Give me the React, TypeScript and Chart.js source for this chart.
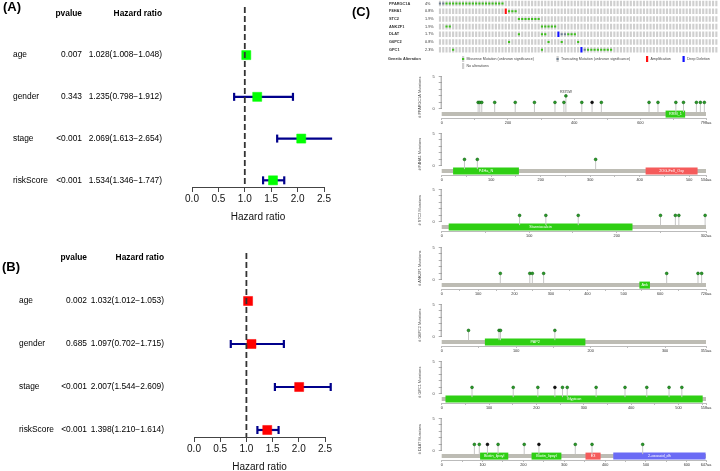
import React, { useEffect, useRef } from 'react';
import { Chart, registerables } from 'chart.js';

Chart.register(...registerables);

const FONT = '"Liberation Sans", Arial, Helvetica, sans-serif';
Chart.defaults.font.family = FONT;

// ---------------- Forest plot data (panels A and B) ----------------
const forestRows = ['age', 'gender', 'stage', 'riskScore'];
const hrTicks = [0, 0.5, 1, 1.5, 2, 2.5];

const pvaluesA = ['0.007', '0.343', '<0.001', '<0.001'];
const hrA = [1.028, 1.235, 2.069, 1.534];
const lowA = [1.008, 0.798, 1.613, 1.346];
const highA = [1.048, 1.912, 2.654, 1.747];

const pvaluesB = ['0.002', '0.685', '<0.001', '<0.001'];
const hrB = [1.032, 1.097, 2.007, 1.398];
const lowB = [1.012, 0.702, 1.544, 1.21];
const highB = [1.053, 1.715, 2.609, 1.614];

// ---------------- Oncoprint data (panel C) ----------------
const oncoGenes = ['PPARGC1A', 'P4HA1', 'STC2', 'ANKZF1', 'DLAT', 'G6PC2', 'GPC1'];
const oncoPercents = ['4%', '0.8%', '1.9%', '1.9%', '1.7%', '0.8%', '2.3%'];
const oncoSampleCount = 85;
const oncoMissense = [
  [2, 3, 4, 5, 6, 7, 8, 9, 10, 11, 12, 13, 14, 15, 16, 17, 18, 19],
  [21, 22, 23],
  [24, 25, 26, 27, 28, 29, 30],
  [2, 3, 31, 32, 33, 34, 35],
  [24, 31, 32, 39, 40, 41],
  [21, 33, 37, 42],
  [4, 31, 45, 46, 47, 48, 49, 50, 51, 52],
];
const oncoTruncating = [[0, 1], [], [], [], [37, 38], [], [44]];
const oncoAmplification = [[], [20], [], [], [], [], []];
const oncoDeepDeletion = [[], [], [], [], [36], [], [43]];

// ---------------- Lollipop data (panel C) ----------------
const lolliGenes = ['PPARGC1A', 'P4HA1', 'STC2', 'ANKZF1', 'G6PC2', 'GPC1', 'DLAT'];
const lolliLengths = [798, 534, 302, 726, 355, 558, 647];
const lolliMajorTicks = [
  [0, 200, 400, 600],
  [0, 100, 200, 300, 400, 500],
  [0, 100, 200],
  [0, 100, 200, 300, 400, 500, 600],
  [0, 100, 200, 300],
  [0, 100, 200, 300, 400, 500],
  [0, 100, 200, 300, 400, 500, 600],
];
const lolliMinorTicks = [
  [100, 300, 500, 700],
  [50, 150, 250, 350, 450],
  [50, 150, 250],
  [50, 150, 250, 350, 450, 550, 650],
  [50, 150, 250],
  [50, 150, 250, 350, 450, 550],
  [50, 150, 250, 350, 450, 550],
];
const lolliPositions = [
  [110, 115, 121, 160, 222, 280, 342, 369, 375, 423, 454, 482, 626, 653, 707, 730, 769, 781, 793],
  [46, 72, 311],
  [89, 119, 156, 250, 267, 271, 301],
  [161, 242, 249, 280, 618, 704, 714],
  [36, 77, 79, 152],
  [64, 151, 203, 239, 255, 265, 326, 387, 433, 480, 507],
  [80, 92, 112, 138, 202, 238, 327, 368, 492],
];
const lolliCounts = [
  [1, 1, 1, 1, 1, 1, 1, 1, 2, 1, 1, 1, 1, 1, 1, 1, 1, 1, 1],
  [1, 1, 1],
  [1, 1, 1, 1, 1, 1, 1],
  [1, 1, 1, 1, 1, 1, 1],
  [1, 1, 1, 1],
  [1, 1, 1, 1, 1, 1, 1, 1, 1, 1, 1],
  [1, 1, 1, 1, 1, 1, 1, 1, 1],
];
const lolliTruncating = [[454], [], [], [], [], [239], [112, 238]];
const lolliHotspotPos = [[375], [], [], [], [], [], []];
const lolliHotspotText = [['R375W'], [], [], [], [], [], []];
const lolliDomainNames = [
  ['RRM_1'],
  ['P4Ha_N', '2OG-FeII_Oxy'],
  ['Stanniocalcin'],
  ['Ank'],
  ['PAP2'],
  ['Glypican'],
  ['Biotin_lipoyl', 'Biotin_lipoyl', 'E3', '2-oxoacid_dh'],
];
const lolliDomainStarts = [[676], [23, 412], [8], [543], [58], [8], [94, 220, 352, 420]];
const lolliDomainEnds = [[735], [156, 517], [218], [572], [193], [551], [163, 293, 389, 646]];

// ---------------- styles / layout ----------------
const domainColors: Record<string, string> = {
  '2OG-FeII_Oxy': '#f55b5b',
  E3: '#f55b5b',
  '2-oxoacid_dh': '#6b6bf5',
};
const DOMAIN_GREEN = '#2fcf14';
const lolliTops = [75, 131.7, 188.3, 245.7, 302.7, 360, 416.7];

type ForestCfg = {
  left: number; top: number; w: number; h: number;
  padLeft: number; padRight: number; padTop: number;
  axisH: number; titlePad: number; yMin: number; yMax: number;
  labelX: number; pX: number; hrX: number;
  panel: string; panelX: number; panelY: number; color: string;
  pvals: string[]; hr: number[]; low: number[]; high: number[];
};

const forestA: ForestCfg = {
  left: 0, top: 0, w: 340, h: 232, padLeft: 192, padRight: 16, padTop: 0,
  axisH: 45, titlePad: 9, yMin: -0.155, yMax: 4.16,
  labelX: 13, pX: 82, hrX: 162, panel: '(A)', panelX: 3, panelY: 7.5, color: '#00FF00',
  pvals: pvaluesA, hr: hrA, low: lowA, high: highA,
};
const forestB: ForestCfg = {
  left: 0, top: 236, w: 340, h: 240, padLeft: 194, padRight: 15, padTop: 17,
  axisH: 39, titlePad: 3, yMin: -0.116, yMax: 4.163,
  labelX: 19, pX: 87, hrX: 164, panel: '(B)', panelX: 2, panelY: 31, color: '#FF0000',
  pvals: pvaluesB, hr: hrB, low: lowB, high: highB,
};

function ForestPlot({ cfg }: { cfg: ForestCfg }) {
  const ref = useRef<HTMLCanvasElement>(null);
  useEffect(() => {
    const navy = '#00008B';
    const hrText = cfg.hr.map(
      (v, i) => `${v.toFixed(3)}(${cfg.low[i].toFixed(3)}\u2212${cfg.high[i].toFixed(3)})`
    );
    const datasets: any[] = [
      {
        data: [{ x: 1, y: cfg.yMin }, { x: 1, y: cfg.yMax }],
        showLine: true, borderColor: '#333', borderWidth: 1.8, borderDash: [6, 3],
        pointRadius: 0, clip: false,
      },
      {
        data: cfg.hr.map((v, i) => ({ x: v, y: i + 1 })),
        pointStyle: 'rect', pointRadius: 6.4, pointBackgroundColor: cfg.color,
        pointBorderColor: cfg.color, pointBorderWidth: 0.5, clip: false,
      },
      ...forestRows.map((_, i) => ({
        data: [{ x: cfg.low[i], y: i + 1 }, { x: cfg.high[i], y: i + 1 }],
        showLine: true, borderColor: navy, borderWidth: 2.2,
        pointStyle: 'line', pointRotation: 90, pointRadius: 4,
        pointBorderColor: navy, pointBorderWidth: 2.2, clip: false,
      })),
    ];
    const textPlugin = {
      id: 'forestText',
      afterDraw(chart: any) {
        const ctx = chart.ctx;
        const y = chart.scales.y;
        ctx.save();
        ctx.fillStyle = '#000';
        ctx.textBaseline = 'middle';
        const hy = y.getPixelForValue(0);
        ctx.font = `bold 8.4px ${FONT}`;
        ctx.textAlign = 'right';
        ctx.fillText('pvalue', cfg.pX, hy);
        ctx.fillText('Hazard ratio', cfg.hrX, hy);
        ctx.font = `8.4px ${FONT}`;
        forestRows.forEach((r, i) => {
          const py = y.getPixelForValue(i + 1);
          ctx.textAlign = 'left';
          ctx.fillText(r, cfg.labelX, py);
          ctx.textAlign = 'right';
          ctx.fillText(cfg.pvals[i], cfg.pX, py);
          ctx.fillText(hrText[i], cfg.hrX, py);
        });
        ctx.font = `bold 13px ${FONT}`;
        ctx.textAlign = 'left';
        ctx.fillText(cfg.panel, cfg.panelX, cfg.panelY);
        ctx.restore();
      },
    };
    const chart = new Chart(ref.current!, {
      type: 'scatter',
      data: { datasets },
      options: {
        animation: false, responsive: false, events: [],
        layout: { padding: { left: cfg.padLeft, right: cfg.padRight, top: cfg.padTop, bottom: 0 } },
        plugins: { legend: { display: false }, tooltip: { enabled: false } },
        scales: {
          x: {
            type: 'linear', min: 0, max: 2.5,
            afterBuildTicks: (s: any) => { s.ticks = hrTicks.map((v) => ({ value: v })); },
            afterFit: (s: any) => { s.height = cfg.axisH; },
            ticks: {
              callback: (v: any) => Number(v).toFixed(1), font: { size: 10 }, color: '#111',
              padding: 1.5, maxRotation: 0, autoSkip: false,
            },
            grid: { drawOnChartArea: false, drawTicks: true, tickLength: 5, color: '#444', lineWidth: 1 },
            border: { display: true, color: '#444', width: 1 },
            title: {
              display: true, text: 'Hazard ratio', font: { size: 10 }, color: '#111',
              padding: { top: 0, bottom: cfg.titlePad },
            },
          },
          y: { type: 'linear', display: false, reverse: true, min: cfg.yMin, max: cfg.yMax },
        },
      } as any,
      plugins: [textPlugin],
    });
    return () => chart.destroy();
  }, []);
  return (
    <canvas
      ref={ref}
      width={cfg.w}
      height={cfg.h}
      style={{ position: 'absolute', left: cfg.left, top: cfg.top, width: cfg.w, height: cfg.h }}
    />
  );
}

function OncoPrint() {
  const ref = useRef<HTMLCanvasElement>(null);
  const W = 370, H = 72, LEFT = 350;
  useEffect(() => {
    const cols = Array.from({ length: oncoSampleCount }, (_, i) => String(i + 1));
    const GRAY = '#cfcfcf';
    const marks: any[] = [];
    const backs: any[] = [];
    oncoGenes.forEach((g, r) => {
      marks.push({
        data: cols.map((_, c) => (oncoMissense[r].includes(c) ? [r - 0.13, r + 0.13] : null)),
        backgroundColor: '#3fbf1f',
      });
      marks.push({
        data: cols.map((_, c) => (oncoTruncating[r].includes(c) ? [r - 0.13, r + 0.13] : null)),
        backgroundColor: '#6f7f90',
      });
      backs.push({
        data: cols.map(() => [r - 0.36, r + 0.36]),
        backgroundColor: cols.map((_, c) =>
          oncoAmplification[r].includes(c) ? '#ff1010' : oncoDeepDeletion[r].includes(c) ? '#1010ff' : GRAY
        ),
      });
    });
    const textPlugin = {
      id: 'oncoText',
      afterDraw(chart: any) {
        const ctx = chart.ctx;
        const y = chart.scales.y;
        ctx.save();
        ctx.textBaseline = 'middle';
        ctx.fillStyle = '#000';
        ctx.font = `bold 13px ${FONT}`;
        ctx.textAlign = 'left';
        ctx.fillText('(C)', 2, 12);
        oncoGenes.forEach((g, r) => {
          const py = y.getPixelForValue(r);
          ctx.fillStyle = '#333';
          ctx.font = `bold 3.9px ${FONT}`;
          ctx.fillText(g, 39, py);
          ctx.font = `3.8px ${FONT}`;
          ctx.fillText(oncoPercents[r], 75, py);
        });
        // legend
        ctx.fillStyle = '#333';
        ctx.font = `bold 3.8px ${FONT}`;
        ctx.fillText('Genetic Alteration', 38, 59);
        ctx.font = `3.6px ${FONT}`;
        const icon = (x: number, yy: number, back: string, mark?: string) => {
          ctx.fillStyle = back;
          ctx.fillRect(x, yy - 3, 2.2, 6);
          if (mark) {
            ctx.fillStyle = mark;
            ctx.fillRect(x, yy - 1, 2.2, 2);
          }
        };
        icon(112, 59, GRAY, '#3fbf1f');
        icon(206.5, 59, GRAY, '#6f7f90');
        icon(296, 59, '#ff1010');
        icon(332.5, 59, '#1010ff');
        icon(112, 66, GRAY);
        ctx.fillStyle = '#444';
        ctx.fillText('Missense Mutation (unknown significance)', 116.5, 59);
        ctx.fillText('Truncating Mutation (unknown significance)', 211, 59);
        ctx.fillText('Amplification', 300.5, 59);
        ctx.fillText('Deep Deletion', 337, 59);
        ctx.fillText('No alterations', 116.5, 66);
        ctx.restore();
      },
    };
    const chart = new Chart(ref.current!, {
      type: 'bar',
      data: { labels: cols, datasets: [...marks, ...backs] },
      options: {
        animation: false, responsive: false, events: [],
        layout: { padding: { left: 88.3, right: 2, top: 0, bottom: H - 53.4 } },
        datasets: { bar: { grouped: false, categoryPercentage: 1, barPercentage: 0.64, borderWidth: 0 } },
        plugins: { legend: { display: false }, tooltip: { enabled: false } },
        scales: {
          x: { type: 'category', display: false },
          y: { type: 'linear', display: false, reverse: true, min: -0.455, max: 6.48 },
        },
      } as any,
      plugins: [textPlugin],
    });
    return () => chart.destroy();
  }, []);
  return (
    <canvas
      ref={ref}
      width={W}
      height={H}
      style={{ position: 'absolute', left: LEFT, top: 0, width: W, height: H }}
    />
  );
}

function Lollipop({ gi }: { gi: number }) {
  const ref = useRef<HTMLCanvasElement>(null);
  const LEFT = 400, W = 320, H = 58;
  const top = lolliTops[gi] - 5;
  useEffect(() => {
    const gene = lolliGenes[gi];
    const len = lolliLengths[gi];
    const pos = lolliPositions[gi];
    const cnt = lolliCounts[gi];
    const trunc = lolliTruncating[gi];
    const BAR_Y = -0.8;
    const stems: any[] = [];
    pos.forEach((p, i) => {
      stems.push({ x: p, y: -0.5 }, { x: p, y: cnt[i] }, { x: p, y: null });
    });
    const names = lolliDomainNames[gi];
    const starts = lolliDomainStarts[gi];
    const ends = lolliDomainEnds[gi];
    const datasets: any[] = [
      {
        data: pos.map((p, i) => ({ x: p, y: cnt[i] })),
        pointRadius: 1.4,
        pointBackgroundColor: pos.map((p) => (trunc.includes(p) ? '#111' : '#2a9d2a')),
        pointBorderColor: pos.map((p) => (trunc.includes(p) ? '#000' : '#0d5f0d')),
        pointBorderWidth: 0.6,
        clip: false,
      },
      {
        data: stems, showLine: true, borderColor: '#c6c6c6', borderWidth: 1,
        pointRadius: 0, spanGaps: false, clip: false,
      },
      ...names.map((n, k) => ({
        data: [{ x: starts[k], y: BAR_Y }, { x: ends[k], y: BAR_Y }],
        showLine: true, borderColor: domainColors[n] || DOMAIN_GREEN, borderWidth: 7,
        borderCapStyle: 'butt', pointRadius: 0, clip: false,
      })),
      {
        data: [{ x: 0, y: BAR_Y }, { x: len, y: BAR_Y }],
        showLine: true, borderColor: '#bdbcb4', borderWidth: 4,
        borderCapStyle: 'butt', pointRadius: 0, clip: false,
      },
    ];
    const textPlugin = {
      id: 'lolliText',
      afterDraw(chart: any) {
        const ctx = chart.ctx;
        const xs = chart.scales.x;
        const ys = chart.scales.y;
        ctx.save();
        // y axis line from 0 to 5
        ctx.strokeStyle = '#999';
        ctx.lineWidth = 1;
        ctx.beginPath();
        const ax = chart.chartArea.left - 0.5;
        ctx.moveTo(ax, ys.getPixelForValue(0));
        ctx.lineTo(ax, ys.getPixelForValue(5));
        ctx.stroke();
        // domain names
        ctx.fillStyle = '#fff';
        ctx.font = `3.8px ${FONT}`;
        ctx.textAlign = 'center';
        ctx.textBaseline = 'middle';
        names.forEach((n, k) => {
          const x0 = xs.getPixelForValue(starts[k]);
          const x1 = xs.getPixelForValue(ends[k]);
          let t = n;
          while (t.length > 1 && ctx.measureText(t).width > x1 - x0 - 2) t = t.slice(0, -1);
          ctx.fillText(t, (x0 + x1) / 2, ys.getPixelForValue(BAR_Y));
        });
        // hotspot labels
        ctx.fillStyle = '#333';
        ctx.font = `3.6px ${FONT}`;
        lolliHotspotPos[gi].forEach((p, k) => {
          const idx = pos.indexOf(p);
          const c = idx >= 0 ? cnt[idx] : 1;
          ctx.fillText(lolliHotspotText[gi][k], xs.getPixelForValue(p), ys.getPixelForValue(c) - 4);
        });
        ctx.restore();
      },
    };
    const major = lolliMajorTicks[gi];
    const allTicks = [...major, ...lolliMinorTicks[gi], len].sort((a, b) => a - b);
    const chart = new Chart(ref.current!, {
      type: 'scatter',
      data: { datasets },
      options: {
        animation: false, responsive: false, events: [],
        layout: { padding: { left: 0, right: W - 306, top: 5, bottom: 0 } },
        plugins: { legend: { display: false }, tooltip: { enabled: false } },
        scales: {
          x: {
            type: 'linear', min: 0, max: len,
            afterBuildTicks: (s: any) => { s.ticks = allTicks.map((v) => ({ value: v })); },
            afterFit: (s: any) => { s.height = 10; },
            ticks: {
              callback: (v: any) => (v === len ? `${len}aa` : major.includes(v) ? String(v) : ''),
              font: { size: 3.8 }, color: '#333', padding: 0.5, maxRotation: 0, autoSkip: false,
            },
            grid: { drawOnChartArea: false, tickLength: 2, color: '#aaa', lineWidth: 0.8 },
            border: { display: true, color: '#aaa', width: 0.8 },
          },
          y: {
            type: 'linear', min: -1.4, max: 5,
            afterBuildTicks: (s: any) => { s.ticks = [0, 1, 2, 3, 4, 5].map((v) => ({ value: v })); },
            afterFit: (s: any) => { s.width = 41.7; },
            ticks: {
              callback: (v: any) => (v === 0 || v === 5 ? String(v) : ''),
              font: { size: 4 }, color: '#444', padding: 4, autoSkip: false,
            },
            grid: { drawOnChartArea: false, tickLength: 3, color: '#999', lineWidth: 0.8 },
            border: { display: false },
            title: {
              display: true, text: `# ${gene} Mutations`, font: { size: 3.8 }, color: '#444',
              padding: { top: 17.7, bottom: 0 },
            },
          },
        },
      } as any,
      plugins: [textPlugin],
    });
    return () => chart.destroy();
  }, []);
  return (
    <canvas
      ref={ref}
      width={W}
      height={H}
      style={{ position: 'absolute', left: LEFT, top, width: W, height: H }}
    />
  );
}

export default function App() {
  return (
    <div
      style={{
        position: 'fixed', left: 0, top: 0, width: 720, height: 471,
        background: '#fff', overflow: 'hidden',
      }}
    >
      <ForestPlot cfg={forestA} />
      <ForestPlot cfg={forestB} />
      <OncoPrint />
      {lolliGenes.map((g, i) => (
        <Lollipop key={g} gi={i} />
      ))}
    </div>
  );
}
